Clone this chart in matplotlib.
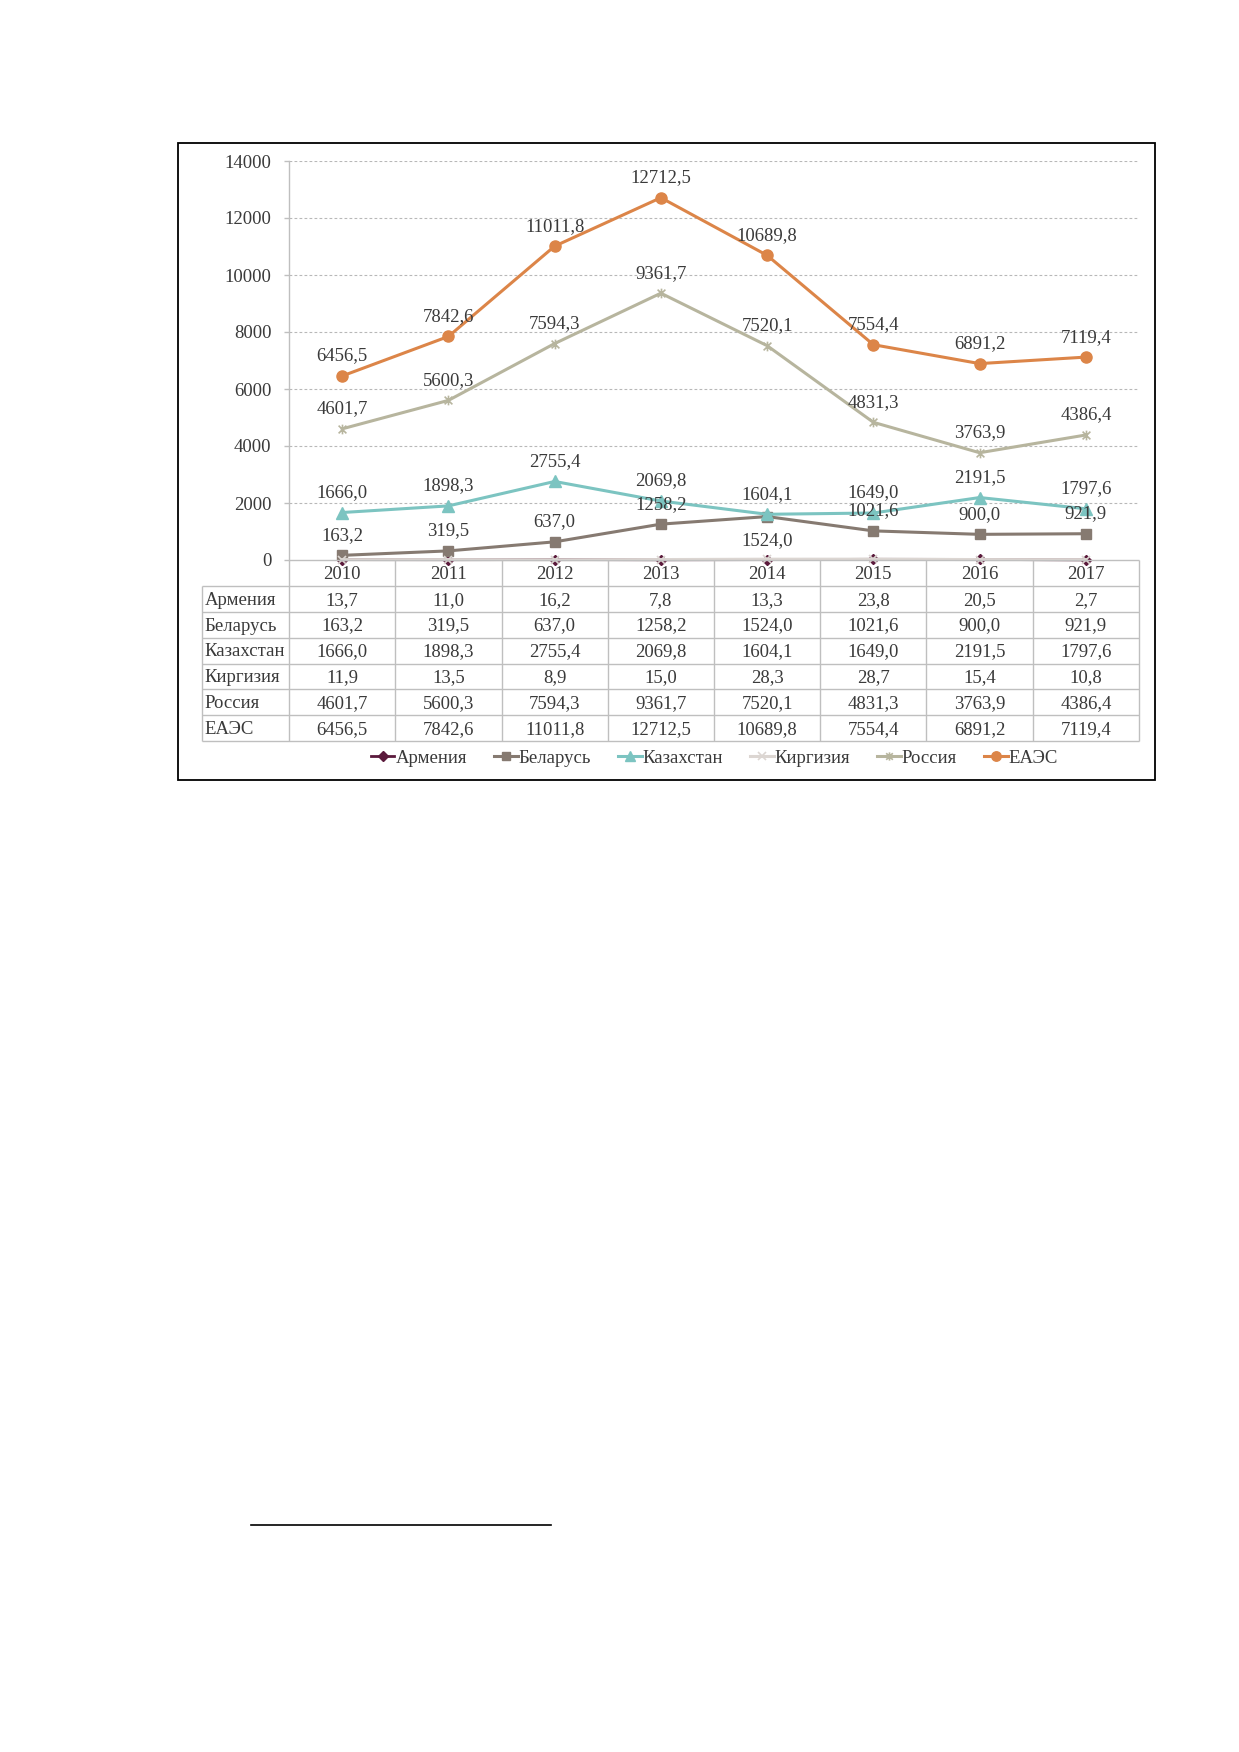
import matplotlib
matplotlib.use("Agg")
import matplotlib.pyplot as plt
from matplotlib.path import Path
from matplotlib.patches import Rectangle
from matplotlib.lines import Line2D
import numpy as np

plt.rcParams['font.family'] = ['Liberation Serif', 'DejaVu Serif']

years = [2010, 2011, 2012, 2013, 2014, 2015, 2016, 2017]
armenia = [13.7, 11.0, 16.2, 7.8, 13.3, 23.8, 20.5, 2.7]
belarus = [163.2, 319.5, 637.0, 1258.2, 1524.0, 1021.6, 900.0, 921.9]
kazakhstan = [1666.0, 1898.3, 2755.4, 2069.8, 1604.1, 1649.0, 2191.5, 1797.6]
kyrgyzstan = [11.9, 13.5, 8.9, 15.0, 28.3, 28.7, 15.4, 10.8]
russia = [4601.7, 5600.3, 7594.3, 9361.7, 7520.1, 4831.3, 3763.9, 4386.4]
eaeu = [6456.5, 7842.6, 11011.8, 12712.5, 10689.8, 7554.4, 6891.2, 7119.4]
series_names = ['Армения', 'Беларусь', 'Казахстан', 'Киргизия', 'Россия', 'ЕАЭС']
yticks = [0, 2000, 4000, 6000, 8000, 10000, 12000, 14000]

series = [armenia, belarus, kazakhstan, kyrgyzstan, russia, eaeu]

W, H = 1239, 1752
fig = plt.figure(figsize=(W / 100, H / 100), dpi=100)

def fx(px):
    return px / W

def fy(py):
    return 1 - py / H

TXT = '#3a3a3a'
GRID = '#bfbfbf'
FS = 13.5

# plot area
x0, x1 = 289, 1139
y_top, y_zero = 161, 560
ax = fig.add_axes([fx(x0), fy(y_zero), (x1 - x0) / W, (y_zero - y_top) / H])
ax.set_xlim(-0.5, 7.5)
ax.set_ylim(0, 14000)
ax.patch.set_alpha(0)
for s in ['top', 'right', 'bottom']:
    ax.spines[s].set_visible(False)
ax.spines['left'].set_color(GRID)
ax.spines['left'].set_linewidth(1.0)
ax.set_yticks(yticks)
ax.set_yticklabels([str(t) for t in yticks])
ax.tick_params(axis='y', length=3.6, width=1.0, color=GRID, pad=9,
               labelsize=FS, labelcolor=TXT)
ax.set_xticks([])
for t in yticks[1:]:
    ax.axhline(t, color='#b8b8b8', lw=0.8, ls=(0, (2.5, 2)), zorder=0)

# asterisk marker (x + vertical bar)
ast = Path([(-1, -1), (1, 1), (-1, 1), (1, -1), (0, -1.25), (0, 1.25)],
           [Path.MOVETO, Path.LINETO, Path.MOVETO, Path.LINETO, Path.MOVETO, Path.LINETO])

styles = [
    dict(color='#5b1a3c', marker='D', ms=5.5, lw=2.0),
    dict(color='#867a71', marker='s', ms=7.5, lw=2.2),
    dict(color='#7cc4c1', marker='^', ms=8, lw=2.2),
    dict(color='#dcd6d2', marker='x', ms=6, lw=2.2, mew=1.2),
    dict(color='#b7b59e', marker=ast, ms=7, lw=2.2, mew=1.2),
    dict(color='#dc8548', marker='o', ms=8, lw=2.2),
]

xs = np.arange(len(years))
handles = []
for name, vals, st in zip(series_names, series, styles):
    ln, = ax.plot(xs, vals, color=st['color'], lw=st['lw'], marker=st['marker'],
                  ms=st['ms'], mew=st.get('mew', 1.0), mec=st['color'], mfc=st['color'],
                  label=name, clip_on=False, zorder=3)
    handles.append(ln)

def fmt(v):
    return f"{v:.1f}".replace('.', ',')

labelled = [belarus, kazakhstan, russia, eaeu]
for vals in labelled:
    for i, v in enumerate(vals):
        off = 20
        if vals is belarus and i == 4:
            off = -24
        ax.annotate(fmt(v), (xs[i], v), xytext=(0, off), textcoords='offset pixels',
                    ha='center', va='center', fontsize=FS, color=TXT, zorder=5)

# data table
row_h = 25.9
t_left = 201.7
t_bottom = y_zero + 7 * row_h
tab = fig.add_axes([fx(t_left), fy(t_bottom), (x1 - t_left) / W, (t_bottom - y_zero) / H])
lab_w = (x0 - t_left) / ((x1 - x0) / 8)
tab.set_xlim(-0.5 - lab_w, 7.5)
tab.set_ylim(7, 0)
tab.axis('off')
tab.patch.set_alpha(0)
tab.hlines(0, -0.5, 7.5, color=GRID, lw=1.0, clip_on=False)
tab.hlines(np.arange(1, 8), -0.5 - lab_w, 7.5, color=GRID, lw=1.0, clip_on=False)
tab.vlines([-0.5 - lab_w], 1, 7, color=GRID, lw=1.0, clip_on=False)
tab.vlines(np.arange(-0.5, 8.0, 1.0), 0, 7, color=GRID, lw=1.0, clip_on=False)
for i, yv in enumerate(years):
    tab.text(i, 0.55, str(yv), ha='center', va='center', fontsize=FS, color=TXT)
for r, (name, vals) in enumerate(zip(series_names, series), start=1):
    tab.text(-0.5 - lab_w + 0.03, r + 0.55, name, ha='left', va='center', fontsize=FS, color=TXT)
    for i, v in enumerate(vals):
        tab.text(i, r + 0.55, fmt(v), ha='center', va='center', fontsize=FS, color=TXT)

# legend
fig.legend(handles=handles, loc='center', bbox_to_anchor=(fx(714.5), fy(758)), ncol=6,
           frameon=False, fontsize=FS, handlelength=1.25, handletextpad=0.05,
           columnspacing=1.45, labelcolor=TXT, borderaxespad=0, borderpad=0,
           markerscale=0.85)

# outer frame
fig.patches.append(Rectangle((fx(178), fy(780)), (1155 - 178) / W, (780 - 143) / H,
                             transform=fig.transFigure, fill=False, edgecolor='black',
                             lw=1.3, zorder=10))
# footnote rule
fig.lines.append(Line2D([fx(251), fx(551)], [fy(1525), fy(1525)], transform=fig.transFigure,
                        color='black', lw=1.2))

fig.savefig('out.png', dpi=100, facecolor='white')
